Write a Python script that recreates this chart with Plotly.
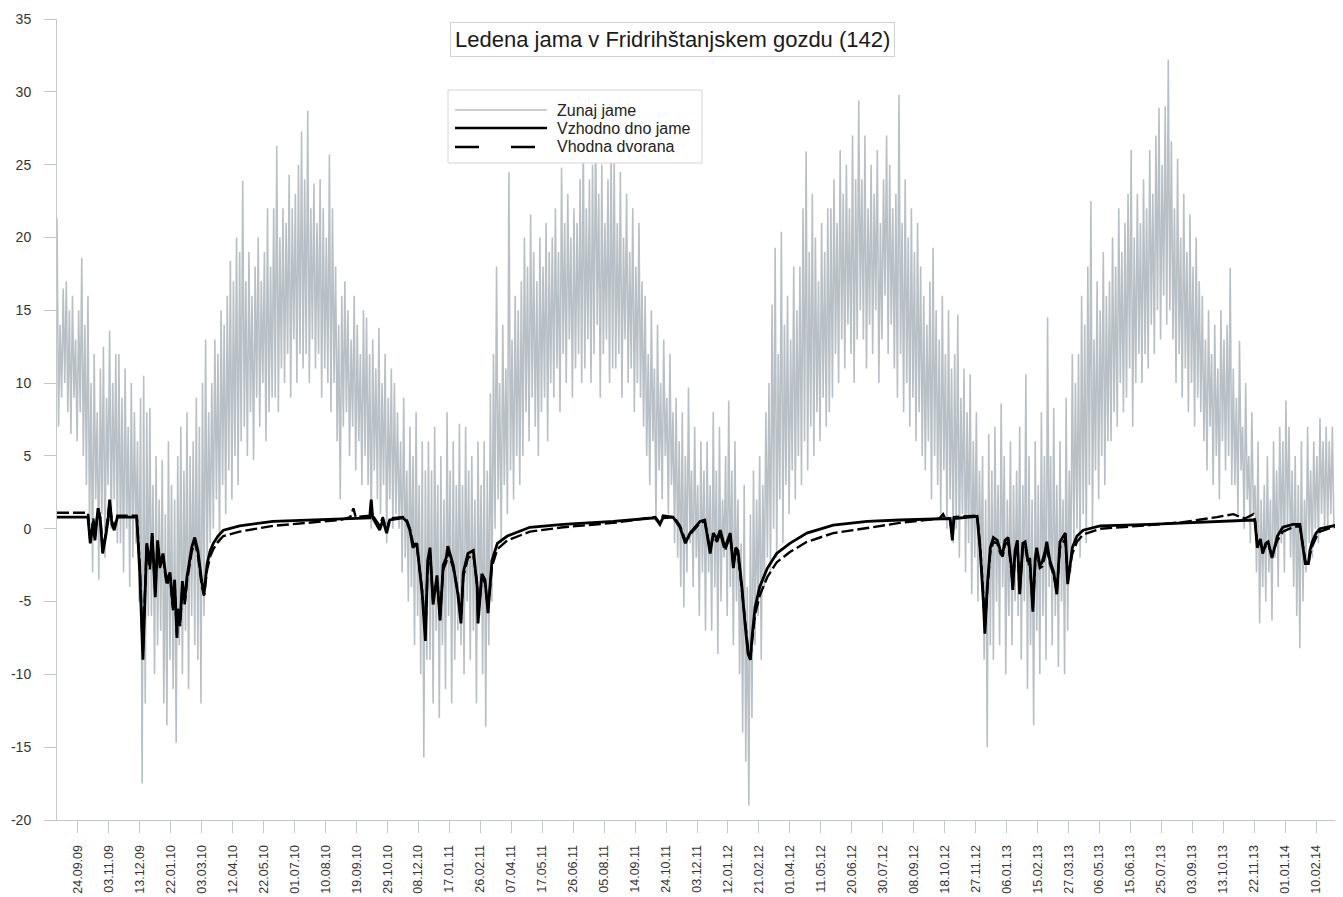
import pandas as pd
import plotly.graph_objects as go

# ---------------- data ----------------
start_date = "2009-08-28"          # first day of the record
end_day = 1654                      # last day shown (days after start)

# outside air temperature: local peaks (every 4 days from day 0)
outside_max = [
    21.3, 14, 16.5, 17, 15, 16, 13, 15, 18.6, 14,
    16, 10, 12, 8, 11, 12.5, 9, 13.6, 10, 12,
    12, 9, 11, 7, 10, 8, 6, 9, 10.5, 8,
    8.3, 3, 5, 2, 4.7, 1, 6, 3, 2, 5,
    7, 4, 8, 5, 6, 9, 7, 10, 13, 8,
    10, 13, 12, 15, 14, 16, 18.4, 17, 20, 19,
    23.9, 17, 19, 16, 18, 20, 17, 19, 22, 18,
    22, 26.3, 20, 22, 21, 24.3, 22, 23, 25, 27.3,
    24, 28.7, 22, 23.7, 21, 24, 22, 20, 25.7, 22,
    18, 14, 16, 17, 15, 13, 16, 14, 12, 15,
    14.5, 12, 13, 11, 13.8, 10, 12, 9, 11, 10,
    8, 6, 9, 4, 7, 5, 8, 3, 6, 4,
    6, 4, 7, 3, 5, 2, 8, 4, 6, 3,
    7.2, 3, 7, 4, 5, 2, 6, 3, 6, 4,
    9.3, 12, 18, 10, 14, 11, 24.5, 13, 16, 15,
    17, 20, 18, 21.6, 19, 17, 20, 18, 21, 19,
    20, 22, 19, 24.8, 21, 23, 20, 22, 21, 24,
    26.8, 22, 24, 25, 27.6, 23, 25, 21, 24, 26,
    25.3, 21, 24.5, 20, 23, 19, 22, 18, 21, 17,
    16, 12, 15, 11, 14, 10, 13, 9, 12, 8,
    9, 6, 8, 5, 9.7, 4, 7, 3, 6, 4,
    6, 3, 8, 4, 7, 2, 5, 8.8, 4, 6,
    2, -1, 3, -4, 1, 4, 2, 5, 3, 8,
    10, 15.4, 19.3, 12, 20.4, 14, 16, 13, 18, 15,
    18, 22, 25.9, 19, 23, 20, 17, 21, 19, 22,
    22, 24, 21, 26, 23, 25, 22, 27, 24, 29.4,
    24, 27, 22, 25, 23, 26, 21, 24, 27, 25,
    22, 23, 29.8, 21, 24, 20, 22, 19, 21, 18,
    16, 14, 17, 19.3, 15, 13, 16, 12, 15, 11,
    12, 14.7, 9, 11, 8, 10.6, 6, 8, 4, 5,
    2, 6.5, 4, 7, 3, 8.6, 5, 2, 6, 3,
    4, 7, 3, 10.6, 5, 2, 6, 3, 8, 5,
    14.5, 5, 8.3, 3, 6, 2, 9, 4, 12, 10,
    12, 16, 14, 18, 22.5, 13, 17, 15, 19, 16,
    17, 20, 18, 22, 19, 21, 23, 26, 20, 23,
    21, 24, 22, 26, 23, 27, 28.9, 25, 29, 32.2,
    26.6, 22, 25.4, 20, 23, 19, 21.6, 18, 20, 17,
    16, 13, 15, 12, 14, 11, 15, 13, 14, 17.9,
    11, 9, 12.9, 7, 10, 5, 8, 3, 6, 2,
    3, 5, 2, 6, 4, 7, 6, 8.8, 7, 4,
    5, 3, 6, 2, 7, 4, 6, 5, 7.6, 6,
    7, 6, 7,
]

# outside air temperature: local troughs (every 4 days from day 2)
outside_min = [
    7, 9, 10, 8, 6.5, 9, 6, 8, 5, 3,
    0, -3, 2, -3.5, 1, -2, 3, 0, 2, -1,
    -1, -3, 0, -4, -2, -1, -5, -17.5, -12, -6,
    -6, -10, -8, -7, -12, -13.5, -9, -11, -14.7, -8,
    -10, -7, -11, -6, -8, -9, -12, -6, -3, -1,
    0, 2, -1, 3, 1, 4, 2, 5, 3, 6,
    7, 5, 8, 4.7, 9, 7, 10, 6, 8, 9,
    9, 8, 11, 10, 12, 9, 13, 10, 12, 11,
    12, 10, 13, 11, 12, 9, 11, 10, 8, 10,
    6, 2, 7, 8, 5, 7, 4, 6, 3, 5,
    3, 0, 4, 2, 1, 3, -1, 2, 0, 1,
    0, -3, -2, -5, -4, -8, -6, -10, -15.7, -9,
    -9, -12, -7, -13, -8, -11, -6, -12, -9, -7,
    -8, -10, -5, -9, -7, -12, -6, -10, -13.6, -8,
    -5, 0, 2, -1, 3, 1, 4, 2, 5, 3,
    5, 8, 6, 9, 7, 5, 8, 9, 6, 10,
    9, 11, 8, 12, 10, 13, 9, 11, 12, 10,
    11, 13, 10, 12, 14, 9, 12, 13, 10, 11,
    11, 12, 9, 13, 10, 11, 8, 10, 9, 7,
    5, 3, 6, 0.5, 4, 2, 5, 1, 3, -1,
    -2, -4, -5.4, -3, -1, -4, -2, -6, -3, -7,
    -3, -7, -4, -8.6, -5, -2, -6, -4, -8, -5,
    -10, -14, -16, -19, -13, -8, -6, -9, -4, -2,
    -3, 0, -2, 2, -1, 3, 1, 4, 2, 5,
    3, 6, 4, 7, 5, 8, 6, 9, 7, 8,
    9, 12, 10, 13, 11, 14, 12, 10, 13, 15,
    13, 11, 14, 12, 15, 10, 13, 16, 12, 14,
    11, 9, 12, 8, 10, 7, 9, 6, 8, 5,
    4, 6, 2, 5, 3, 1, 4, 0, 2, -1,
    0, -2, 1, -3, -1, -4.5, -2, -5, -3, -9,
    -15, -8, -9, -5, -8, -4, -10, -6, -8, -5,
    -6, -9, -5, -11, -8, -13.5, -7, -10, -6, -9,
    -4, -8, -6, -9.5, -5, -10, -7, -3, -1, 0,
    -2, 1, -1, 3, 0, 4, 2, 5, 3, 6,
    6, 8, 7, 10, 8, 9, 11, 7, 10, 12,
    10, 12, 11, 14, 12, 15, 13, 16, 14, 15,
    13, 10, 12, 9, 11, 8, 10, 7, 9, 8,
    6, 4, 7, 3, 5, 2, 6, 4, 5, 3,
    3, 1, 4, 0, 2, -1, 1, -3, -6.5, -4,
    -5, -3, -6.3, -2, -4, -1, -3, 0, -2, -4,
    -6, -8.2, -5, -3, -1, -2, 0, -1, 1, 0,
    0, 1, 0,
]

# cave loggers: day after start, east floor, entrance hall
cave_day = [
    0, 40, 43, 47, 49, 53, 56, 59, 63, 66, 68, 71, 74, 78, 103, 107, 111, 114, 116,
    120, 123, 127, 130, 133, 137, 140, 142, 146, 150, 152, 155, 156, 159, 162, 165,
    168, 172, 174, 178, 182, 187, 190, 194, 198, 202, 208, 215, 236, 279, 366, 379,
    383, 386, 404, 406, 408, 417, 421, 426, 430, 447, 452, 456, 460, 465, 469, 472,
    476, 479, 482, 486, 491, 495, 499, 503, 505, 512, 518, 522, 525, 531, 538, 543,
    544, 549, 553, 557, 562, 569, 582, 611, 654, 719, 773, 779, 783, 796, 800, 805,
    812, 816, 818, 831, 837, 844, 848, 853, 857, 863, 870, 874, 877, 880, 885, 889,
    893, 896, 898, 902, 908, 918, 930, 947, 969, 1003, 1047, 1089, 1140, 1145, 1148,
    1154, 1157, 1159, 1189, 1193, 1197, 1199, 1202, 1206, 1210, 1215, 1219, 1222,
    1225, 1229, 1233, 1235, 1238, 1241, 1244, 1248, 1251, 1255, 1257, 1261, 1264,
    1266, 1270, 1273, 1277, 1279, 1283, 1288, 1292, 1296, 1303, 1306, 1312, 1318,
    1326, 1348, 1412, 1455, 1499, 1520, 1535, 1546, 1548, 1551, 1555, 1558, 1562,
    1565, 1570, 1577, 1584, 1597, 1606, 1609, 1613, 1617, 1619, 1622, 1627, 1632,
    1648, 1654,
]
east_floor = [
    0.8, 0.8, -1.0, 0.5, -0.8, 1.4, 0.6, -1.7, -0.5, 0.6, 2.0, 0.3, -0.1, 0.8, 0.8, -3.0, -9.0, -4.0, -1.0,
    -2.5, -0.3, -4.7, -0.8, -2.5, -1.7, -3.0, -3.6, -3.0, -5.4, -3.5, -7.5, -5.5, -6.5, -3.6, -5.0,
    -3.3, -2.0, -1.3, -0.6, -1.5, -3.6, -4.5, -2.4, -1.5, -1.0, -0.5, -0.1, 0.2, 0.5, 0.7, 0.7,
    0.7, 0.7, 0.75, 2.0, 0.75, -0.1, 0.6, -0.3, 0.6, 0.75, 0.5, -0.1, -1.3, -1.0, -3.0, -4.5,
    -7.7, -2.2, -1.3, -5.2, -3.2, -6.3, -2.5, -2.0, -1.2, -2.5, -4.5, -6.5, -3.0, -1.7, -1.5, -4.0,
    -6.5, -3.1, -3.5, -5.8, -2.2, -1.0, -0.5, 0.1, 0.3, 0.5, 0.75, 0.3, 0.75, 0.8, 0.5, 0.1,
    -1.0, -0.5, -0.3, 0.5, 0.6, -1.7, -0.3, -0.7, -0.1, -1.3, -0.3, -2.7, -1.3, -1.5, -4.0, -6.5,
    -8.6, -9.0, -7.5, -5.4, -4.0, -2.7, -1.7, -1.0, -0.3, 0.25, 0.5, 0.6, 0.68, 0.7, 0.7,
    0.7, -0.8, 0.7, 0.85, -1.5, -5.0, -7.2, -4.0, -1.3, -0.6, -0.8, -1.5, -1.7,
    -0.8, -0.6, -2.5, -4.2, -1.5, -0.8, -4.5, -1.0, -0.9, -2.3, -2.0, -5.7, -2.0,
    -1.3, -2.5, -2.3, -1.5, -0.9, -2.2, -3.0, -4.5, -0.9, -0.3, -3.8, -1.3, -0.5,
    -0.1, 0.2, 0.3, 0.4, 0.5, 0.55, 0.58, 0.6, 0.5, -1.3, -0.7, -1.7, -1.0,
    -0.9, -2.0, -0.5, 0.1, 0.3, 0.3, -1.0, -2.4, -2.4, -1.5, -0.9, -0.3, 0.0,
    0.2, 0.25,
]
entrance_hall = [
    1.1, 1.1, -0.8, 0.7, -0.6, 1.4, 0.8, -1.5, -0.3, 0.8, 1.8, 0.5, 0.1, 0.9, 0.9, -2.5, -8.5, -3.8, -1.2,
    -2.8, -0.5, -4.4, -1.0, -2.7, -1.9, -3.2, -3.9, -3.3, -5.6, -3.8, -7.3, -5.8, -6.7, -4.0, -5.2,
    -3.6, -2.4, -1.6, -0.9, -1.8, -3.9, -4.6, -2.8, -1.9, -1.4, -0.9, -0.5, -0.2, 0.2, 0.6, 0.8,
    1.4, 0.8, 0.9, 1.0, 0.9, 0.2, 0.8, -0.1, 0.7, 0.8, 0.6, 0.0, -1.0, -1.2, -2.8, -4.3,
    -7.2, -2.6, -1.6, -5.0, -3.5, -6.0, -2.8, -2.3, -1.5, -2.7, -4.3, -6.2, -3.3, -2.0, -1.8, -3.8,
    -6.0, -3.4, -3.7, -5.5, -2.6, -1.4, -0.8, -0.2, 0.1, 0.4, 0.8, 0.4, 0.9, 0.8, 0.6, 0.2,
    -0.8, -0.6, -0.4, 0.4, 0.5, -1.4, -0.5, -0.9, -0.3, -1.5, -0.5, -2.5, -1.6, -1.8, -4.2, -6.3,
    -8.3, -8.8, -7.8, -5.9, -4.6, -3.3, -2.3, -1.6, -0.9, -0.3, 0.05, 0.4, 0.7, 1.0, 0.7,
    0.7, -0.5, 0.8, 0.9, -1.2, -4.6, -6.8, -4.3, -1.6, -0.9, -1.0, -1.7, -1.9,
    -1.1, -0.9, -2.7, -4.0, -1.8, -1.1, -4.3, -1.3, -1.2, -2.5, -2.3, -5.4, -2.4,
    -1.6, -2.7, -2.6, -1.8, -1.2, -2.4, -3.2, -4.3, -1.3, -0.7, -3.5, -1.7, -0.9,
    -0.4, 0.0, 0.25, 0.45, 0.8, 1.0, 0.7, 1.0, 0.6, -1.0, -0.9, -1.5, -1.2,
    -1.1, -1.8, -0.8, -0.2, 0.1, 0.2, -0.8, -2.2, -2.5, -1.8, -1.2, -0.6, -0.2,
    0.1, 0.2,
]

tick_labels = [
    "24.09.09", "03.11.09", "13.12.09", "22.01.10", "03.03.10", "12.04.10", "22.05.10",
    "01.07.10", "10.08.10", "19.09.10", "29.10.10", "08.12.10", "17.01.11", "26.02.11",
    "07.04.11", "17.05.11", "26.06.11", "05.08.11", "14.09.11", "24.10.11", "03.12.11",
    "12.01.12", "21.02.12", "01.04.12", "11.05.12", "20.06.12", "30.07.12", "08.09.12",
    "18.10.12", "27.11.12", "06.01.13", "15.02.13", "27.03.13", "06.05.13", "15.06.13",
    "25.07.13", "03.09.13", "13.10.13", "22.11.13", "01.01.14", "10.02.14",
]
y_ticks = [-20, -15, -10, -5, 0, 5, 10, 15, 20, 25, 30, 35]

series_names = ["Zunaj jame", "Vzhodno dno jame", "Vhodna dvorana"]
title_text = "Ledena jama v Fridrihštanjskem gozdu (142)"

# ---------------- build ----------------
t0 = pd.Timestamp(start_date)
out_x, out_y = [], []
for i, v in enumerate(outside_max):
    out_x.append(t0 + pd.Timedelta(days=4 * i))
    out_y.append(v)
    if i < len(outside_min):
        out_x.append(t0 + pd.Timedelta(days=4 * i + 2))
        out_y.append(outside_min[i])

cave_x = [t0 + pd.Timedelta(days=d) for d in cave_day]
tick_vals = list(pd.to_datetime(tick_labels, format="%d.%m.%y"))

GRAY = "#b9c0c5"
FONT = "Liberation Sans, Arial, Helvetica, sans-serif"

fig = go.Figure()
fig.add_trace(go.Scatter(x=out_x, y=out_y, mode="lines", name=series_names[0],
                         line=dict(color=GRAY, width=1.6)))
fig.add_trace(go.Scatter(x=cave_x, y=east_floor, mode="lines", name=series_names[1],
                         line=dict(color="#000000", width=2.8)))
fig.add_trace(go.Scatter(x=cave_x, y=entrance_hall, mode="lines", name=series_names[2],
                         line=dict(color="#000000", width=2.4, dash="12px,4px")))

# plot area (page px, page has an 8px body margin): x 57..1337, y 19..820
def px(xp):
    return (xp - 57) / 1280.0

def py(yp):
    return (820 - yp) / 801.0

shapes = [
    dict(type="rect", xref="paper", yref="paper", x0=px(448), x1=px(702), y0=py(163), y1=py(90),
         line=dict(color="#d4d4d4", width=1), fillcolor="white", layer="above"),
    dict(type="line", xref="paper", yref="paper", x0=px(455), x1=px(547), y0=py(110), y1=py(110),
         line=dict(color=GRAY, width=1.5), layer="above"),
    dict(type="line", xref="paper", yref="paper", x0=px(455), x1=px(547), y0=py(128), y1=py(128),
         line=dict(color="#000000", width=2.6), layer="above"),
    dict(type="line", xref="paper", yref="paper", x0=px(455), x1=px(547), y0=py(147), y1=py(147),
         line=dict(color="#000000", width=2.6, dash="24px,32px"), layer="above"),
]
annotations = [
    dict(text=title_text, xref="paper", yref="paper", x=px(672), y=py(40),
         xanchor="center", yanchor="middle", showarrow=False,
         font=dict(family=FONT, size=22, color="#1a1a1a"),
         bordercolor="#d0d0d0", borderwidth=1, borderpad=4, bgcolor="white"),
]
for name, yy in zip(series_names, [110, 128, 147]):
    annotations.append(dict(text=name, xref="paper", yref="paper", x=px(555), y=py(yy),
                            xanchor="left", yanchor="middle", showarrow=False,
                            font=dict(family=FONT, size=16, color="#222222")))

fig.update_layout(
    width=1335, height=889,
    margin=dict(l=49, r=6, t=11, b=77),
    paper_bgcolor="white", plot_bgcolor="white",
    showlegend=False,
    shapes=shapes, annotations=annotations,
    font=dict(family=FONT, color="#333333"),
)
fig.update_xaxes(
    type="date", automargin=False,
    range=[t0, t0 + pd.Timedelta(days=end_day)],
    tickvals=tick_vals, ticktext=tick_labels, tickangle=-90,
    ticks="outside", ticklen=12, tickcolor="#c4c8cb", ticklabelstandoff=7,
    tickfont=dict(family=FONT, size=12.5, color="#333333"),
    showline=True, linecolor="#c4c8cb", linewidth=1,
    showgrid=False, zeroline=False,
)
fig.update_yaxes(
    automargin=False,
    range=[-20, 35], tickvals=y_ticks, ticktext=[str(v) for v in y_ticks],
    ticks="outside", ticklen=12, tickcolor="#c4c8cb", ticklabelstandoff=10,
    tickfont=dict(family=FONT, size=14, color="#333333"),
    showline=True, linecolor="#c4c8cb", linewidth=1,
    showgrid=False, zeroline=False,
)

fig.write_html("out.html")
